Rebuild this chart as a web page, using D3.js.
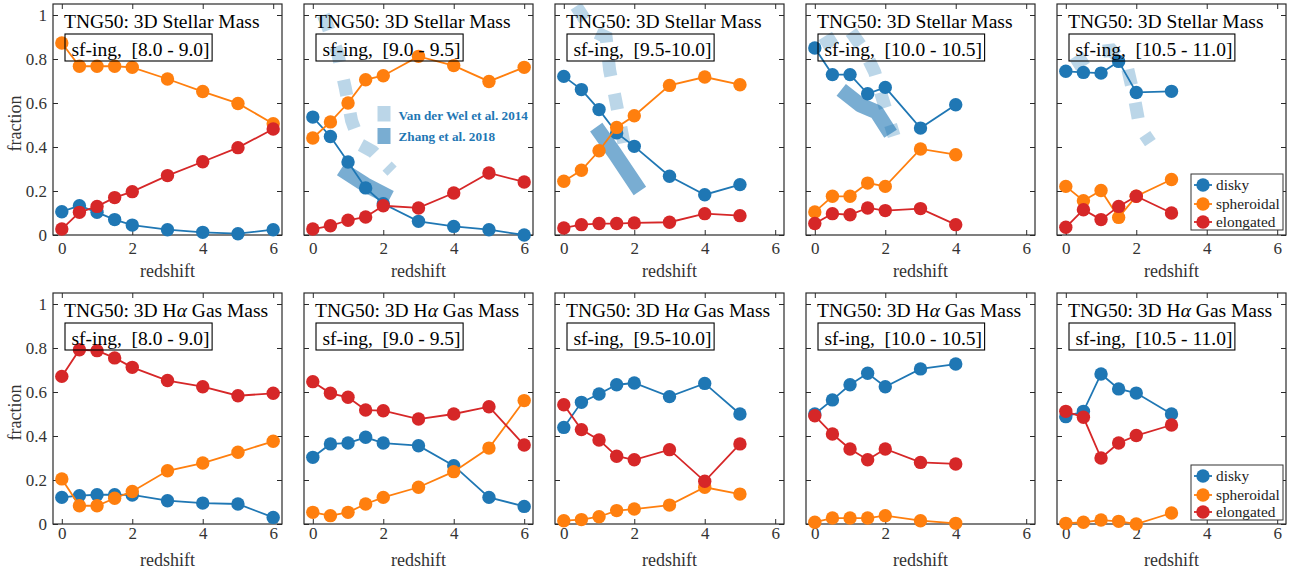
<!DOCTYPE html>
<html>
<head>
<meta charset="utf-8">
<script src="https://cdn.jsdelivr.net/npm/d3@7"></script>
<style>
  html, body { margin: 0; padding: 0; background: #fff; }
  svg { display: block; }
  text { font-family: "Liberation Serif", "Times New Roman", serif; }
</style>
</head>
<body>
<div id="chart"></div>
<script>
// ---- data ----------------------------------------------------------------
const redshift = [0, 0.5, 1, 1.5, 2, 3, 4, 5, 6];
const massBins = ["[8.0 - 9.0]", "[9.0 - 9.5]", "[9.5-10.0]", "[10.0 - 10.5]", "[10.5 - 11.0]"];
const xTicks = [0, 2, 4, 6];
const yTicks = [0, 0.2, 0.4, 0.6, 0.8, 1];
const yTickLabels = ["0", "0.2", "0.4", "0.6", "0.8", "1"];
const classNames = ["disky", "spheroidal", "elongated"];

// 3D stellar mass shapes, one array per mass bin
const stellarDisky = [
  [0.106, 0.133, 0.103, 0.070, 0.045, 0.024, 0.012, 0.006, 0.024],
  [0.536, 0.448, 0.332, 0.214, 0.142, 0.062, 0.039, 0.024, 0.000],
  [0.721, 0.661, 0.570, 0.464, 0.403, 0.267, 0.183, 0.229],
  [0.850, 0.729, 0.729, 0.642, 0.671, 0.486, 0.592],
  [0.744, 0.739, 0.736, 0.789, 0.648, 0.653]
];
const stellarSpheroidal = [
  [0.873, 0.767, 0.767, 0.767, 0.762, 0.709, 0.652, 0.598, 0.506],
  [0.441, 0.514, 0.600, 0.706, 0.724, 0.812, 0.770, 0.698, 0.762],
  [0.244, 0.294, 0.383, 0.489, 0.542, 0.680, 0.718, 0.683],
  [0.105, 0.176, 0.176, 0.236, 0.221, 0.391, 0.365],
  [0.221, 0.156, 0.202, 0.080, 0.176, 0.252]
];
const stellarElongated = [
  [0.027, 0.103, 0.130, 0.170, 0.197, 0.270, 0.333, 0.397, 0.482],
  [0.027, 0.042, 0.067, 0.082, 0.133, 0.123, 0.191, 0.282, 0.241],
  [0.032, 0.047, 0.052, 0.052, 0.055, 0.058, 0.097, 0.088],
  [0.052, 0.097, 0.092, 0.123, 0.111, 0.120, 0.047],
  [0.035, 0.115, 0.070, 0.130, 0.176, 0.100]
];

// 3D H-alpha gas mass shapes
const gasDisky = [
  [0.121, 0.129, 0.133, 0.133, 0.132, 0.106, 0.095, 0.091, 0.030],
  [0.303, 0.364, 0.368, 0.394, 0.368, 0.356, 0.265, 0.121, 0.080],
  [0.439, 0.553, 0.591, 0.633, 0.641, 0.579, 0.639, 0.500],
  [0.500, 0.564, 0.633, 0.685, 0.624, 0.705, 0.727],
  [0.488, 0.512, 0.682, 0.614, 0.595, 0.500]
];
const gasSpheroidal = [
  [0.205, 0.083, 0.083, 0.117, 0.148, 0.242, 0.277, 0.326, 0.376],
  [0.053, 0.038, 0.053, 0.091, 0.121, 0.167, 0.238, 0.345, 0.561],
  [0.015, 0.020, 0.033, 0.061, 0.068, 0.086, 0.167, 0.136],
  [0.008, 0.027, 0.027, 0.027, 0.038, 0.015, 0.003],
  [0.003, 0.008, 0.018, 0.012, 0.000, 0.050]
];
const gasElongated = [
  [0.671, 0.792, 0.788, 0.755, 0.712, 0.652, 0.624, 0.583, 0.594],
  [0.647, 0.594, 0.576, 0.518, 0.515, 0.477, 0.500, 0.533, 0.359],
  [0.542, 0.429, 0.382, 0.308, 0.292, 0.338, 0.194, 0.364],
  [0.492, 0.409, 0.341, 0.292, 0.341, 0.280, 0.273],
  [0.512, 0.485, 0.300, 0.368, 0.402, 0.450]
];

// observed disk fractions (redshift, fraction) per mass bin
const vanDerWel2014 = [
  null,
  [[0.3, 1.0], [0.7, 0.83], [0.92, 0.67], [1.1, 0.52], [1.35, 0.41], [1.7, 0.38], [2.0, 0.33], [2.25, 0.29]],
  [[0.35, 1.04], [0.8, 0.93], [1.2, 0.9], [1.3, 0.75], [1.5, 0.59], [1.75, 0.38]],
  [[0.2, 0.86], [0.6, 0.9], [1.0, 0.93], [1.4, 0.84], [1.7, 0.74], [1.9, 0.63], [2.25, 0.45]],
  [[0.2, 0.77], [0.8, 0.83], [1.3, 0.84], [1.75, 0.76], [1.95, 0.62], [2.1, 0.49], [2.4, 0.42]]
];
const zhang2018 = [
  null,
  [[0.8, 0.30], [1.5, 0.228], [2.2, 0.17]],
  [[0.92, 0.49], [1.45, 0.37], [2.16, 0.20]],
  [[0.75, 0.66], [1.3, 0.59], [1.75, 0.56], [2.15, 0.46]],
  null
];

// ---- layout & style ------------------------------------------------------
const W = 1297, H = 574;
const colors = { disky: "#1f77b4", spheroidal: "#ff7f0e", elongated: "#d62728" };
const obsColor = "#1f77b4";
const panelW = 229, panelH = 231, colStep = 251, firstLeft = 53;
const xDomain = [-0.25, 6.25], yDomain = [0, 1.05];

const rows = [
  { top: 4, title: [["TNG50: 3D Stellar Mass", false]],
    series: { disky: stellarDisky, spheroidal: stellarSpheroidal, elongated: stellarElongated },
    tickPad: 7, xLabelOff: 42, legendYs: [181, 200, 218], legendTop: 170, legendH: 56, obs: true },
  { top: 293, title: [["TNG50: 3D H", false], ["α", true], [" Gas Mass", false]],
    series: { disky: gasDisky, spheroidal: gasSpheroidal, elongated: gasElongated },
    tickPad: 3, xLabelOff: 42, legendYs: [183, 202, 219], legendTop: 172, legendH: 55, obs: false }
];

const svg = d3.select("#chart").append("svg")
  .attr("width", W).attr("height", H)
  .attr("viewBox", `0 0 ${W} ${H}`);

const defs = svg.append("defs");
const axisColor = "#2a2a2a";

rows.forEach((row, r) => {
  massBins.forEach((bin, c) => {
    const left = firstLeft + c * colStep, top = row.top;
    const x = d3.scaleLinear().domain(xDomain).range([left, left + panelW]);
    const y = d3.scaleLinear().domain(yDomain).range([top + panelH, top]);
    const g = svg.append("g").attr("class", `panel r${r} c${c}`);

    const clipId = `clip-${r}-${c}`;
    defs.append("clipPath").attr("id", clipId)
      .append("rect").attr("x", left).attr("y", top).attr("width", panelW).attr("height", panelH);

    const line = d3.line().x(d => x(d[0])).y(d => y(d[1]));

    // observational comparison curves
    if (row.obs) {
      const og = g.append("g").attr("clip-path", `url(#${clipId})`);
      if (zhang2018[c]) {
        og.append("path").attr("d", line(zhang2018[c]))
          .attr("fill", "none").attr("stroke", obsColor).attr("stroke-opacity", 0.6)
          .attr("stroke-width", 15).attr("stroke-linejoin", "round");
      }
      if (vanDerWel2014[c]) {
        og.append("path").attr("d", line(vanDerWel2014[c]))
          .attr("fill", "none").attr("stroke", obsColor).attr("stroke-opacity", 0.3)
          .attr("stroke-width", 13).attr("stroke-dasharray", "16 18")
          .attr("stroke-linejoin", "miter");
      }
    }

    // axes with inward ticks on all four sides
    const styleAxis = sel => {
      sel.select(".domain").remove();
      sel.selectAll(".tick line").attr("stroke", axisColor).attr("stroke-width", 1);
      sel.attr("font-family", "Liberation Serif, Times New Roman, serif")
        .attr("font-size", 17);
      sel.selectAll(".tick text").attr("fill", "#333");
    };
    g.append("g").attr("transform", `translate(0,${top + panelH})`)
      .call(d3.axisBottom(x).tickValues(xTicks).tickSizeInner(-5).tickSizeOuter(0)
        .tickPadding(row.tickPad).tickFormat(d3.format("d")))
      .call(styleAxis);
    g.append("g").attr("transform", `translate(0,${top})`)
      .call(d3.axisTop(x).tickValues(xTicks).tickSizeInner(-5).tickSizeOuter(0).tickFormat(() => ""))
      .call(styleAxis);
    g.append("g").attr("transform", `translate(${left},0)`)
      .call(d3.axisLeft(y).tickValues(yTicks).tickSizeInner(-5).tickSizeOuter(0).tickPadding(6)
        .tickFormat((d, i) => c === 0 ? yTickLabels[i] : ""))
      .call(styleAxis);
    g.append("g").attr("transform", `translate(${left + panelW},0)`)
      .call(d3.axisRight(y).tickValues(yTicks).tickSizeInner(-5).tickSizeOuter(0).tickFormat(() => ""))
      .call(styleAxis);

    g.append("rect").attr("x", left).attr("y", top).attr("width", panelW).attr("height", panelH)
      .attr("fill", "none").attr("stroke", axisColor).attr("stroke-width", 1.2);

    // axis titles
    g.append("text").attr("x", left + panelW / 2).attr("y", top + panelH + row.xLabelOff)
      .attr("text-anchor", "middle").attr("font-size", 18).attr("fill", "#333").text("redshift");
    if (c === 0) {
      g.append("text")
        .attr("transform", `translate(21,${top + panelH / 2 + 4}) rotate(-90)`)
        .attr("text-anchor", "middle").attr("font-size", 18).attr("fill", "#333").text("fraction");
    }

    // shape fraction series
    classNames.forEach(k => {
      const vals = row.series[k][c];
      const pts = vals.map((v, i) => [redshift[i], v]);
      const sg = g.append("g");
      sg.append("path").attr("d", line(pts)).attr("fill", "none")
        .attr("stroke", colors[k]).attr("stroke-width", 1.8);
      sg.selectAll("circle").data(pts).join("circle")
        .attr("cx", d => x(d[0])).attr("cy", d => y(d[1])).attr("r", 6.7)
        .attr("fill", colors[k]);
    });

    // panel title and mass-bin box
    const title = g.append("text").attr("x", left + 11).attr("y", top + 24)
      .attr("font-size", 19.5).attr("fill", "#000");
    row.title.forEach(([s, it]) => {
      const ts = title.append("tspan").text(s);
      if (it) ts.attr("font-style", "italic");
    });
    const boxX = left + 12;
    const boxG = g.append("g");
    const boxRect = boxG.append("rect");
    const bt = boxG.append("text").attr("x", boxX + 6.5).attr("y", top + 51.5)
      .attr("font-size", 19.5).attr("fill", "#000")
      .attr("xml:space", "preserve").style("white-space", "pre")
      .text(`sf-ing,  ${bin}`);
    const tw = bt.node().getComputedTextLength();
    boxRect.attr("x", boxX).attr("y", top + 30).attr("width", tw + 9).attr("height", 27)
      .attr("fill", "none").attr("stroke", "#000").attr("stroke-width", 1.1);

    // observation labels
    if (row.obs && c === 1) {
      const lx = left + 73.5;
      g.append("rect").attr("x", lx).attr("y", 106).attr("width", 13).attr("height", 15.5)
        .attr("fill", obsColor).attr("fill-opacity", 0.3);
      g.append("rect").attr("x", lx).attr("y", 128).attr("width", 13).attr("height", 16)
        .attr("fill", obsColor).attr("fill-opacity", 0.6);
      g.append("text").attr("x", lx + 21).attr("y", 119.5).attr("font-size", 13.2)
        .attr("font-weight", "bold").attr("fill", obsColor).text("Van der Wel et al. 2014");
      g.append("text").attr("x", lx + 21).attr("y", 140.5).attr("font-size", 13.2)
        .attr("font-weight", "bold").attr("fill", obsColor).text("Zhang et al. 2018");
    }

    // legend
    if (c === massBins.length - 1) {
      const lg = g.append("g");
      lg.append("rect").attr("x", left + 134).attr("y", top + row.legendTop)
        .attr("width", 92).attr("height", row.legendH)
        .attr("fill", "#fff").attr("stroke", "#333").attr("stroke-width", 1);
      classNames.forEach((k, i) => {
        const ly = top + row.legendYs[i];
        lg.append("line").attr("x1", left + 137).attr("x2", left + 155)
          .attr("y1", ly).attr("y2", ly).attr("stroke", colors[k]).attr("stroke-width", 1.8);
        lg.append("circle").attr("cx", left + 146).attr("cy", ly).attr("r", 6.7).attr("fill", colors[k]);
        lg.append("text").attr("x", left + 159).attr("y", ly).attr("dy", "0.33em")
          .attr("font-size", 15.3).attr("fill", "#222").text(k);
      });
    }
  });
});
</script>
</body>
</html>
